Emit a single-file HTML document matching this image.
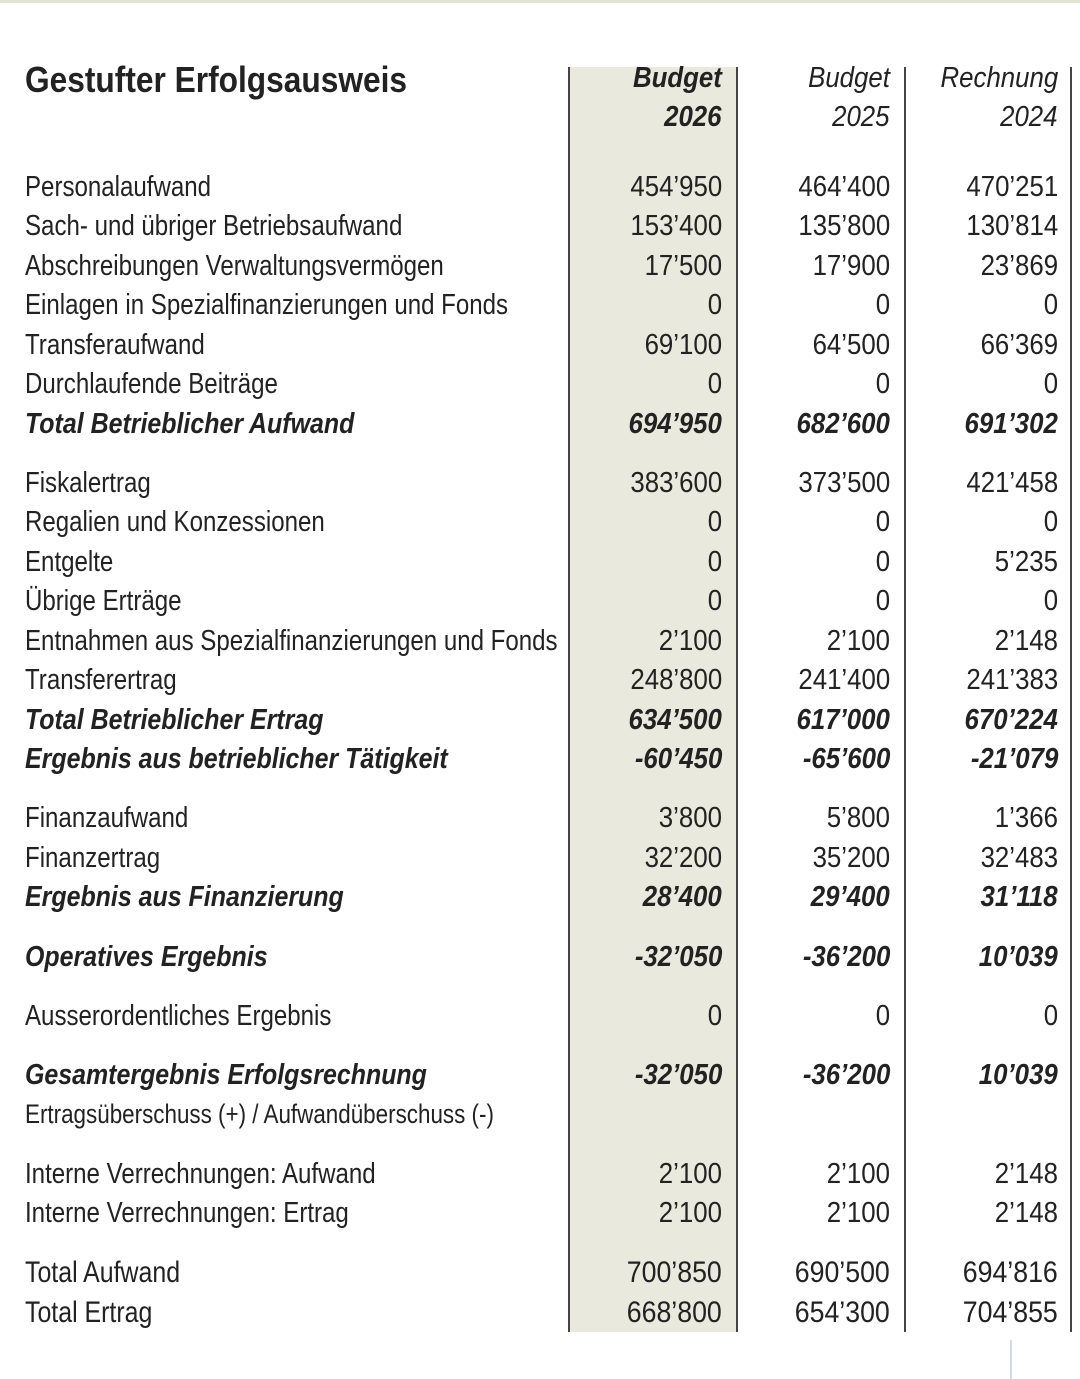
<!DOCTYPE html>
<html><head><meta charset="utf-8"><style>
body{margin:0;width:1080px;height:1379px;background:#fff;position:relative;overflow:hidden;font-family:"Liberation Sans",sans-serif;color:#222;}
.top{position:absolute;left:0;top:0;width:1080px;height:3px;background:#dfe3cf;}
.shade{position:absolute;left:569px;top:67px;width:168px;height:1265px;background:#e9e9de;}
.vl{position:absolute;top:67px;height:1265px;width:2px;background:#444;}
.r{position:absolute;left:0;width:1080px;height:36px;line-height:36px;font-size:29px;}
.r span{position:absolute;top:0;white-space:nowrap;display:inline-block;}
.l{left:25px;transform:scaleX(0.83);transform-origin:left center;}
.a,.b,.c{transform:scaleX(0.89);transform-origin:right center;}
.bi .l{transform:scaleX(0.86);}
.a{right:358px;}.b{right:190px;}.c{right:22px;}
.bi{font-weight:bold;font-style:italic;}
</style></head><body>
<div class="top"></div>
<div class="shade"></div>
<div class="vl" style="left:568px"></div>
<div class="vl" style="left:736px"></div>
<div class="vl" style="left:904px"></div>
<div class="vl" style="left:1070px"></div>
<div class="r" style="top:62px;font-size:36px;font-weight:bold"><span class="l" style="transform:scaleX(0.88)">Gestufter Erfolgsausweis</span></div>
<div class="r" style="top:60px;font-style:italic"><span class="a" style="font-weight:bold">Budget</span><span class="b">Budget</span><span class="c">Rechnung</span></div>
<div class="r" style="top:99px;font-style:italic"><span class="a" style="font-weight:bold">2026</span><span class="b">2025</span><span class="c">2024</span></div>

<div class="r" style="top:169px"><span class="l">Personalaufwand</span><span class="a">454’950</span><span class="b">464’400</span><span class="c">470’251</span></div>
<div class="r" style="top:208px"><span class="l">Sach- und übriger Betriebsaufwand</span><span class="a">153’400</span><span class="b">135’800</span><span class="c">130’814</span></div>
<div class="r" style="top:248px"><span class="l">Abschreibungen Verwaltungsvermögen</span><span class="a">17’500</span><span class="b">17’900</span><span class="c">23’869</span></div>
<div class="r" style="top:287px"><span class="l">Einlagen in Spezialfinanzierungen und Fonds</span><span class="a">0</span><span class="b">0</span><span class="c">0</span></div>
<div class="r" style="top:327px"><span class="l">Transferaufwand</span><span class="a">69’100</span><span class="b">64’500</span><span class="c">66’369</span></div>
<div class="r" style="top:366px"><span class="l">Durchlaufende Beiträge</span><span class="a">0</span><span class="b">0</span><span class="c">0</span></div>
<div class="r bi" style="top:406px"><span class="l">Total Betrieblicher Aufwand</span><span class="a">694’950</span><span class="b">682’600</span><span class="c">691’302</span></div>

<div class="r" style="top:465px"><span class="l">Fiskalertrag</span><span class="a">383’600</span><span class="b">373’500</span><span class="c">421’458</span></div>
<div class="r" style="top:504px"><span class="l">Regalien und Konzessionen</span><span class="a">0</span><span class="b">0</span><span class="c">0</span></div>
<div class="r" style="top:544px"><span class="l">Entgelte</span><span class="a">0</span><span class="b">0</span><span class="c">5’235</span></div>
<div class="r" style="top:583px"><span class="l">Übrige Erträge</span><span class="a">0</span><span class="b">0</span><span class="c">0</span></div>
<div class="r" style="top:623px"><span class="l">Entnahmen aus Spezialfinanzierungen und Fonds</span><span class="a">2’100</span><span class="b">2’100</span><span class="c">2’148</span></div>
<div class="r" style="top:662px"><span class="l">Transferertrag</span><span class="a">248’800</span><span class="b">241’400</span><span class="c">241’383</span></div>
<div class="r bi" style="top:702px"><span class="l">Total Betrieblicher Ertrag</span><span class="a">634’500</span><span class="b">617’000</span><span class="c">670’224</span></div>
<div class="r bi" style="top:741px"><span class="l">Ergebnis aus betrieblicher Tätigkeit</span><span class="a">-60’450</span><span class="b">-65’600</span><span class="c">-21’079</span></div>

<div class="r" style="top:800px"><span class="l">Finanzaufwand</span><span class="a">3’800</span><span class="b">5’800</span><span class="c">1’366</span></div>
<div class="r" style="top:840px"><span class="l">Finanzertrag</span><span class="a">32’200</span><span class="b">35’200</span><span class="c">32’483</span></div>
<div class="r bi" style="top:879px"><span class="l">Ergebnis aus Finanzierung</span><span class="a">28’400</span><span class="b">29’400</span><span class="c">31’118</span></div>

<div class="r bi" style="top:939px"><span class="l">Operatives Ergebnis</span><span class="a">-32’050</span><span class="b">-36’200</span><span class="c">10’039</span></div>
<div class="r" style="top:998px"><span class="l">Ausserordentliches Ergebnis</span><span class="a">0</span><span class="b">0</span><span class="c">0</span></div>
<div class="r bi" style="top:1057px"><span class="l">Gesamtergebnis Erfolgsrechnung</span><span class="a">-32’050</span><span class="b">-36’200</span><span class="c">10’039</span></div>
<div class="r" style="top:1096px;font-size:27px"><span class="l">Ertragsüberschuss (+) / Aufwandüberschuss (-)</span></div>

<div class="r" style="top:1156px"><span class="l">Interne Verrechnungen: Aufwand</span><span class="a">2’100</span><span class="b">2’100</span><span class="c">2’148</span></div>
<div class="r" style="top:1195px"><span class="l">Interne Verrechnungen: Ertrag</span><span class="a">2’100</span><span class="b">2’100</span><span class="c">2’148</span></div>
<div class="r" style="top:1255px;font-size:30px"><span class="l">Total Aufwand</span><span class="a">700’850</span><span class="b">690’500</span><span class="c">694’816</span></div>
<div class="r" style="top:1295px;font-size:30px"><span class="l">Total Ertrag</span><span class="a">668’800</span><span class="b">654’300</span><span class="c">704’855</span></div>
<div style="position:absolute;left:1010px;top:1340px;width:2px;height:39px;background:#cfdbe8"></div>
</body></html>
